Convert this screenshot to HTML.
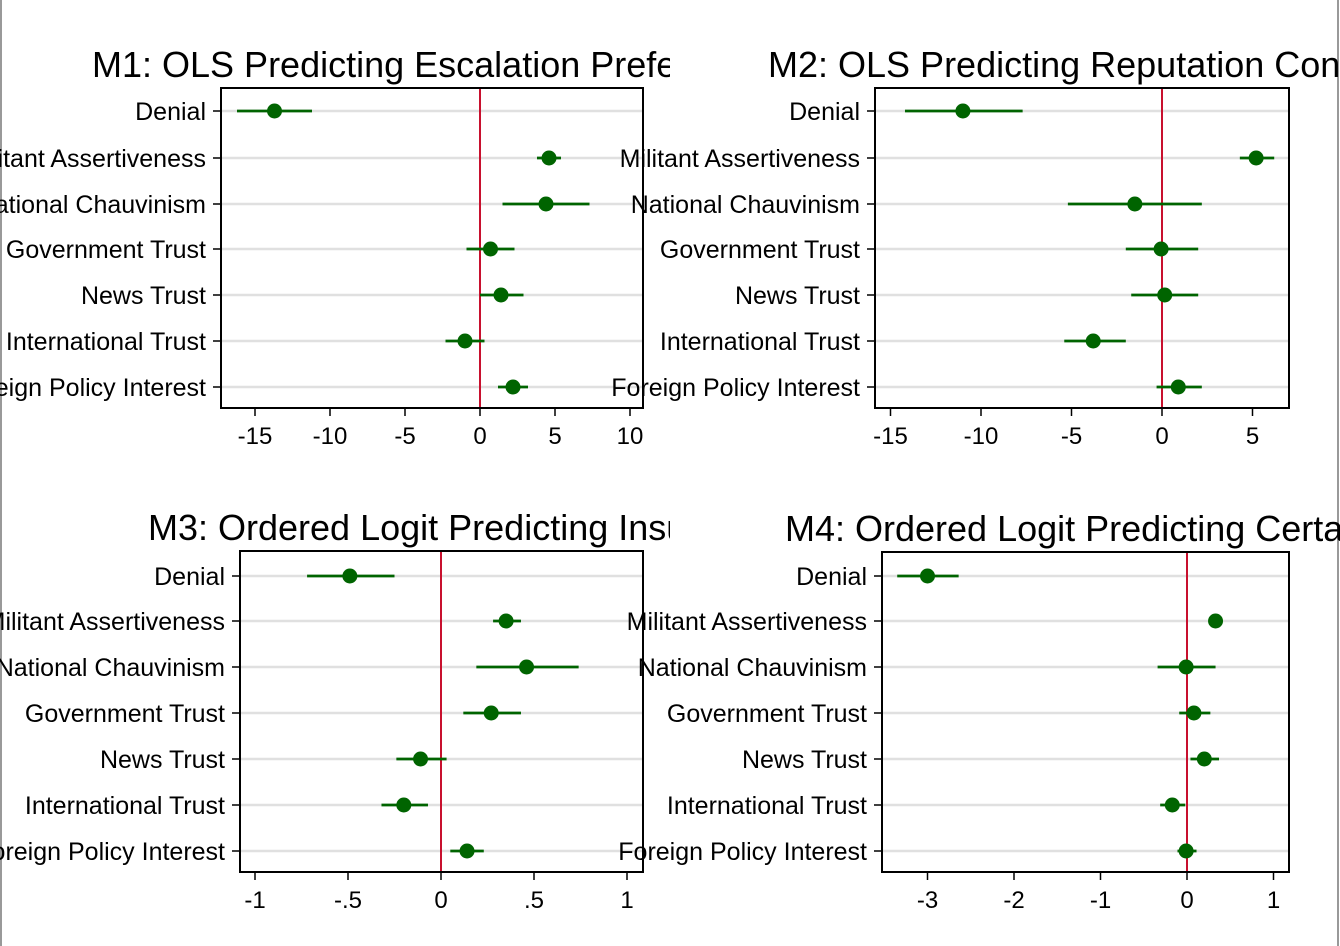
<!DOCTYPE html>
<html><head><meta charset="utf-8"><style>
html,body{margin:0;padding:0;background:#fff;width:1340px;height:946px;overflow:hidden}
svg{display:block}
text{font-family:"Liberation Sans",Arial,sans-serif;fill:#000}
</style></head><body>
<svg id="s" width="1340" height="946" xmlns="http://www.w3.org/2000/svg">
<rect x="0" y="0" width="1340" height="946" fill="#fff"/>
<line x1="1" y1="0" x2="1" y2="946" stroke="#999" stroke-width="2"/>
<line x1="1338" y1="0" x2="1338" y2="946" stroke="#999" stroke-width="2"/>
</svg>
<script>
const NS="http://www.w3.org/2000/svg",S=document.getElementById('s');
function el(t,a,txt){const e=document.createElementNS(NS,t);for(const k in a)e.setAttribute(k,a[k]);if(txt!==undefined)e.textContent=txt;S.appendChild(e);return e;}
const labels=["Denial","Militant Assertiveness","National Chauvinism","Government Trust","News Trust","International Trust","Foreign Policy Interest"];
const panels=[
{title:"M1: OLS Predicting Escalation Preferences",tx:92,clipL:0,clipR:670,x0:221,x1:643,y0:88,y1:408,rows:[111,158,204,249,295,341,387],zero:480,scale:15,
ticks:[[-15,"-15"],[-10,"-10"],[-5,"-5"],[0,"0"],[5,"5"],[10,"10"]],
d:[[-13.7,-16.2,-11.2],[4.6,3.8,5.4],[4.4,1.5,7.3],[0.7,-0.9,2.3],[1.4,0,2.9],[-1.0,-2.3,0.3],[2.2,1.2,3.2]]},
{title:"M2: OLS Predicting Reputation Concerns",tx:768,clipL:670,clipR:1340,x0:875,x1:1289,y0:88,y1:408,rows:[111,158,204,249,295,341,387],zero:1162,scale:18.1,
ticks:[[-15,"-15"],[-10,"-10"],[-5,"-5"],[0,"0"],[5,"5"]],
d:[[-11,-14.2,-7.7],[5.2,4.3,6.2],[-1.5,-5.2,2.2],[-0.05,-2,2],[0.15,-1.7,2.0],[-3.8,-5.4,-2],[0.9,-0.3,2.2]]},
{title:"M3: Ordered Logit Predicting Insults",tx:148,clipL:0,clipR:670,x0:240,x1:643,y0:551,y1:872,rows:[576,621,667,713,759,805,851],zero:441,scale:186,
ticks:[[-1,"-1"],[-0.5,"-.5"],[0,"0"],[0.5,".5"],[1,"1"]],
d:[[-0.49,-0.72,-0.25],[0.35,0.28,0.43],[0.46,0.19,0.74],[0.27,0.12,0.43],[-0.11,-0.24,0.03],[-0.2,-0.32,-0.07],[0.14,0.05,0.23]]},
{title:"M4: Ordered Logit Predicting Certainty",tx:785,clipL:670,clipR:1340,x0:882,x1:1289,y0:552,y1:872,rows:[576,621,667,713,759,805,851],zero:1187,scale:86.5,
ticks:[[-3,"-3"],[-2,"-2"],[-1,"-1"],[0,"0"],[1,"1"]],
d:[[-3.0,-3.35,-2.64],[0.33,0.31,0.35],[-0.01,-0.34,0.33],[0.08,-0.09,0.27],[0.2,0.04,0.37],[-0.17,-0.31,-0.02],[-0.01,-0.11,0.11]]}
];
panels.forEach((p,i)=>{
 const cid="c"+i;
 const cp=el('clipPath',{id:cid});
 const r=document.createElementNS(NS,'rect');r.setAttribute('x',p.clipL);r.setAttribute('y',0);r.setAttribute('width',p.clipR-p.clipL);r.setAttribute('height',946);cp.appendChild(r);
 el('text',{x:p.tx,y:p.y0-11,'font-size':36,'clip-path':`url(#${cid})`},p.title);
 const X=v=>p.zero+v*p.scale;
 p.rows.forEach((y,j)=>{
  el('line',{x1:p.x0,x2:p.x1,y1:y,y2:y,stroke:'#e0e0e0','stroke-width':2.5});
  el('line',{x1:p.x0-8,x2:p.x0,y1:y,y2:y,stroke:'#000','stroke-width':1.5});
 });
 el('line',{x1:p.zero,x2:p.zero,y1:p.y0,y2:p.y1,stroke:'#c8102e','stroke-width':2});
 p.d.forEach((d,j)=>{const y=p.rows[j];
  el('line',{x1:X(d[1]),x2:X(d[2]),y1:y,y2:y,stroke:'#006400','stroke-width':2.8});
  el('circle',{cx:X(d[0]),cy:y,r:7.5,fill:'#006400'});
 });
 el('rect',{x:p.x0,y:p.y0,width:p.x1-p.x0,height:p.y1-p.y0,fill:'none',stroke:'#000','stroke-width':2});
 p.ticks.forEach(t=>{const x=X(t[0]);
  el('line',{x1:x,x2:x,y1:p.y1,y2:p.y1+8,stroke:'#000','stroke-width':1.5});
  el('text',{x:x,y:p.y1+36,'font-size':24,'text-anchor':'middle'},t[1]);
 });
});
panels.forEach(p=>{p.rows.forEach((y,j)=>{
  el('text',{x:p.x0-15,y:y+9,'font-size':25,'text-anchor':'end'},labels[j]);
});});
</script>
</body></html>
